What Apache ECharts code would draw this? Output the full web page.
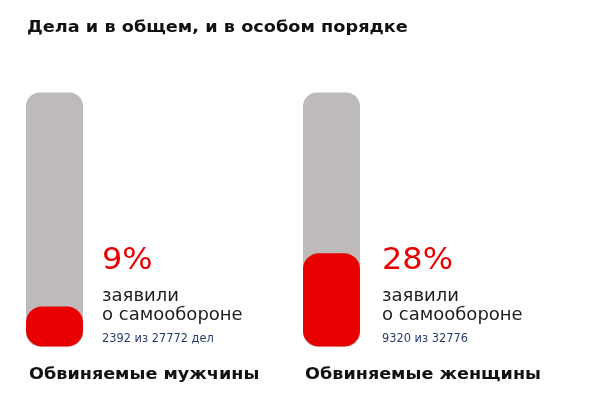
<!DOCTYPE html>
<html>
<head>
<meta charset="utf-8">
<script src="https://cdn.jsdelivr.net/npm/echarts@6/dist/echarts.min.js"></script>
<style>
  html, body { margin: 0; padding: 0; background: #ffffff; }
  #chart { width: 613px; height: 402px; }
</style>
</head>
<body>
<div id="chart"></div>
<script>
// Доля обвиняемых, заявивших о самообороне
const titleText = 'Дела и в общем, и в особом порядке';
const groups = ['Обвиняемые мужчины', 'Обвиняемые женщины'];
const sharePercent = [9, 28];
const selfDefenseCases = [2392, 9320];
const totalCases = [27772, 32776];
const caseSuffix = [' дел', ''];
const claimLines = ['заявили', 'о самообороне'];

const RED = '#e80000';
const GREY = '#bfbaba';
const FONT = '"DejaVu Sans", sans-serif';

// one narrow grid per column
const columnLeft = [26, 303];
const textLeft = [102, 382];

const grids = [], xAxes = [], yAxes = [], series = [], texts = [];

function label(x, y, text, font, fill, scaleX) {
  return {
    type: 'text', x: x, y: y, scaleX: scaleX || 1,
    style: { text: text, font: font, fill: fill, verticalAlign: 'middle', textVerticalAlign: 'middle' }
  };
}

groups.forEach((name, i) => {
  grids.push({ left: columnLeft[i], top: 92.5, width: 57, height: 254 });
  xAxes.push({ type: 'category', gridIndex: i, data: [name], show: false });
  yAxes.push({ type: 'value', gridIndex: i, min: 0, max: 76.2, show: false });
  series.push({
    type: 'bar',
    xAxisIndex: i,
    yAxisIndex: i,
    data: [sharePercent[i]],
    barWidth: '100%',
    barMinHeight: 40,
    showBackground: true,
    backgroundStyle: { color: GREY, borderRadius: 14 },
    itemStyle: { color: RED, borderRadius: 16 },
    silent: true
  });

  const x = textLeft[i];
  texts.push(
    label(x, 260.5, sharePercent[i] + '%', '31px ' + FONT, RED, 1.03),
    label(x, 296.5, claimLines[0], '18px ' + FONT, '#1e1e1e'),
    label(x, 315.5, claimLines[1], '18px ' + FONT, '#1e1e1e'),
    label(x, 339, selfDefenseCases[i] + ' из ' + totalCases[i] + caseSuffix[i], '11.4px ' + FONT, '#2b3c6e'),
    label(columnLeft[i] + (i === 0 ? 3 : 2), 375, name, 'bold 16px ' + FONT, '#111111', 1.1)
  );
});

texts.push(label(27, 28.5, titleText, 'bold 15px ' + FONT, '#111111', 1.18));

const chart = echarts.init(document.getElementById('chart'), null, { renderer: 'canvas' });
chart.setOption({
  animation: false,
  backgroundColor: '#ffffff',
  grid: grids,
  xAxis: xAxes,
  yAxis: yAxes,
  series: series,
  graphic: texts
});
</script>
</body>
</html>
